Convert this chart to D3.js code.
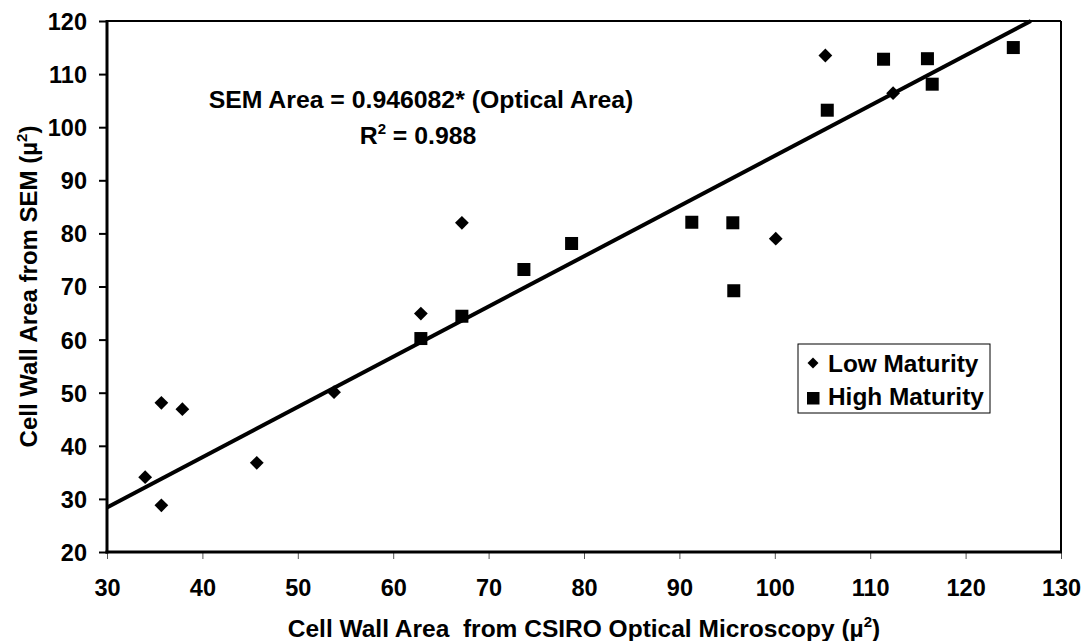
<!DOCTYPE html>
<html><head><meta charset="utf-8">
<script src="https://cdn.jsdelivr.net/npm/d3@7"></script>
<style>body{margin:0;background:#fff}svg{display:block}text{font-family:"Liberation Sans",Arial,sans-serif;font-weight:bold;fill:#000}</style>
</head><body>
<svg id="c" width="1086" height="641"></svg>
<script>
const lowX = [34.0, 35.7, 37.9, 35.7, 45.7, 53.8, 62.9, 67.2, 100.1, 105.3, 112.4];
const lowY = [34.1, 48.1, 46.9, 28.8, 36.8, 50.1, 64.9, 82.0, 79.0, 113.5, 106.4];
const highX = [62.9, 67.2, 73.7, 78.7, 91.3, 95.6, 95.7, 105.5, 111.4, 116.0, 116.5, 125.0];
const highY = [60.2, 64.4, 73.2, 78.1, 82.1, 82.0, 69.2, 103.2, 112.8, 112.9, 108.1, 115.0];
const xTicks = [30, 40, 50, 60, 70, 80, 90, 100, 110, 120, 130];
const yTicks = [20, 30, 40, 50, 60, 70, 80, 90, 100, 110, 120];
const slope = 0.946082;
const seriesNames = ["Low Maturity", "High Maturity"];

const svg = d3.select("#c");
const L = 107, R = 1061, T = 21, B = 552;
const x = d3.scaleLinear().domain([30, 130]).range([L, R]);
const y = d3.scaleLinear().domain([20, 120]).range([B, T]);
const FF = '"Liberation Sans",Arial,sans-serif';

// frame top/right
svg.append("line").attr("x1", L).attr("x2", R).attr("y1", T).attr("y2", T).attr("stroke", "#000").attr("stroke-width", 2);
svg.append("line").attr("x1", R).attr("x2", R).attr("y1", T).attr("y2", B).attr("stroke", "#000").attr("stroke-width", 2);

// x axis
const xa = svg.append("g").attr("transform", `translate(0,${B})`)
  .call(d3.axisBottom(x).tickValues(xTicks).tickSize(7).tickSizeOuter(0).tickPadding(20));
xa.select(".domain").remove();
xa.selectAll(".tick line").attr("stroke", "#555").attr("stroke-width", 1);
xa.selectAll(".tick text").attr("font-size", 23.5).attr("dy", null).attr("y", 44).style("font-family", FF).style("font-weight", "bold");

// y axis
const ya = svg.append("g").attr("transform", `translate(${L},0)`)
  .call(d3.axisLeft(y).tickValues(yTicks).tickSize(8).tickSizeOuter(0).tickPadding(12));
ya.select(".domain").remove();
ya.selectAll(".tick line").attr("stroke", "#000").attr("stroke-width", 2);
ya.selectAll(".tick text").attr("font-size", 23.5).attr("dy", "0.36em").style("font-family", FF).style("font-weight", "bold");

svg.append("line").attr("x1", L).attr("x2", L).attr("y1", T - 1).attr("y2", B + 1.5).attr("stroke", "#000").attr("stroke-width", 3);
svg.append("line").attr("x1", L - 1.5).attr("x2", R + 1).attr("y1", B).attr("y2", B).attr("stroke", "#000").attr("stroke-width", 3);

// regression line
const xEnd = Math.min(130, 120 / slope);
svg.append("line")
  .attr("x1", x(30)).attr("y1", y(30 * slope))
  .attr("x2", x(xEnd)).attr("y2", y(xEnd * slope))
  .attr("stroke", "#000").attr("stroke-width", 4);

// points
const diamond = d3.symbol().type(d3.symbolSquare).size(95);
const low = lowX.map((v, i) => [v, lowY[i]]);
const high = highX.map((v, i) => [v, highY[i]]);
svg.append("g").selectAll("path").data(low).join("path")
  .attr("d", diamond).attr("transform", d => `translate(${x(d[0])},${y(d[1])}) rotate(45)`).attr("fill", "#000");
svg.append("g").selectAll("rect").data(high).join("rect")
  .attr("x", d => x(d[0]) - 6.5).attr("y", d => y(d[1]) - 6.5).attr("width", 13).attr("height", 13).attr("fill", "#000");

// annotation
svg.append("text").attr("x", 421).attr("y", 108).attr("text-anchor", "middle").attr("font-size", 24.8)
  .text("SEM Area = " + slope + "* (Optical Area)");
const r2 = svg.append("text").attr("x", 418).attr("y", 144).attr("text-anchor", "middle").attr("font-size", 24.8);
r2.append("tspan").text("R");
r2.append("tspan").attr("font-size", 15).attr("dy", -10).text("2");
r2.append("tspan").attr("dy", 10).text(" = 0.988");

// legend
svg.append("rect").attr("x", 798).attr("y", 344).attr("width", 192).attr("height", 69).attr("fill", "#fff").attr("stroke", "#000").attr("stroke-width", 1);
svg.append("path").attr("d", d3.symbol().type(d3.symbolSquare).size(60)).attr("transform", "translate(813,363) rotate(45)").attr("fill", "#000");
svg.append("rect").attr("x", 807).attr("y", 392).attr("width", 12.5).attr("height", 12.5).attr("fill", "#000");
svg.append("text").attr("x", 828).attr("y", 372).attr("font-size", 24.4).text(seriesNames[0]);
svg.append("text").attr("x", 828).attr("y", 405).attr("font-size", 24.4).text(seriesNames[1]);

// axis titles
const xt = svg.append("text").attr("x", (L + R) / 2).attr("y", 637).attr("text-anchor", "middle").attr("font-size", 24.5);
xt.append("tspan").text("Cell Wall Area\u00a0\u00a0from CSIRO Optical Microscopy (\u00b5");
xt.append("tspan").attr("font-size", 15).attr("dy", -10).text("2");
xt.append("tspan").attr("dy", 10).text(")");

const yt = svg.append("text").attr("transform", `translate(37,${(T + B) / 2}) rotate(-90)`).attr("text-anchor", "middle").attr("font-size", 24);
yt.append("tspan").text("Cell Wall Area from SEM (\u00b5");
yt.append("tspan").attr("font-size", 15).attr("dy", -10).text("2");
yt.append("tspan").attr("dy", 10).text(")");
</script>
</body></html>
